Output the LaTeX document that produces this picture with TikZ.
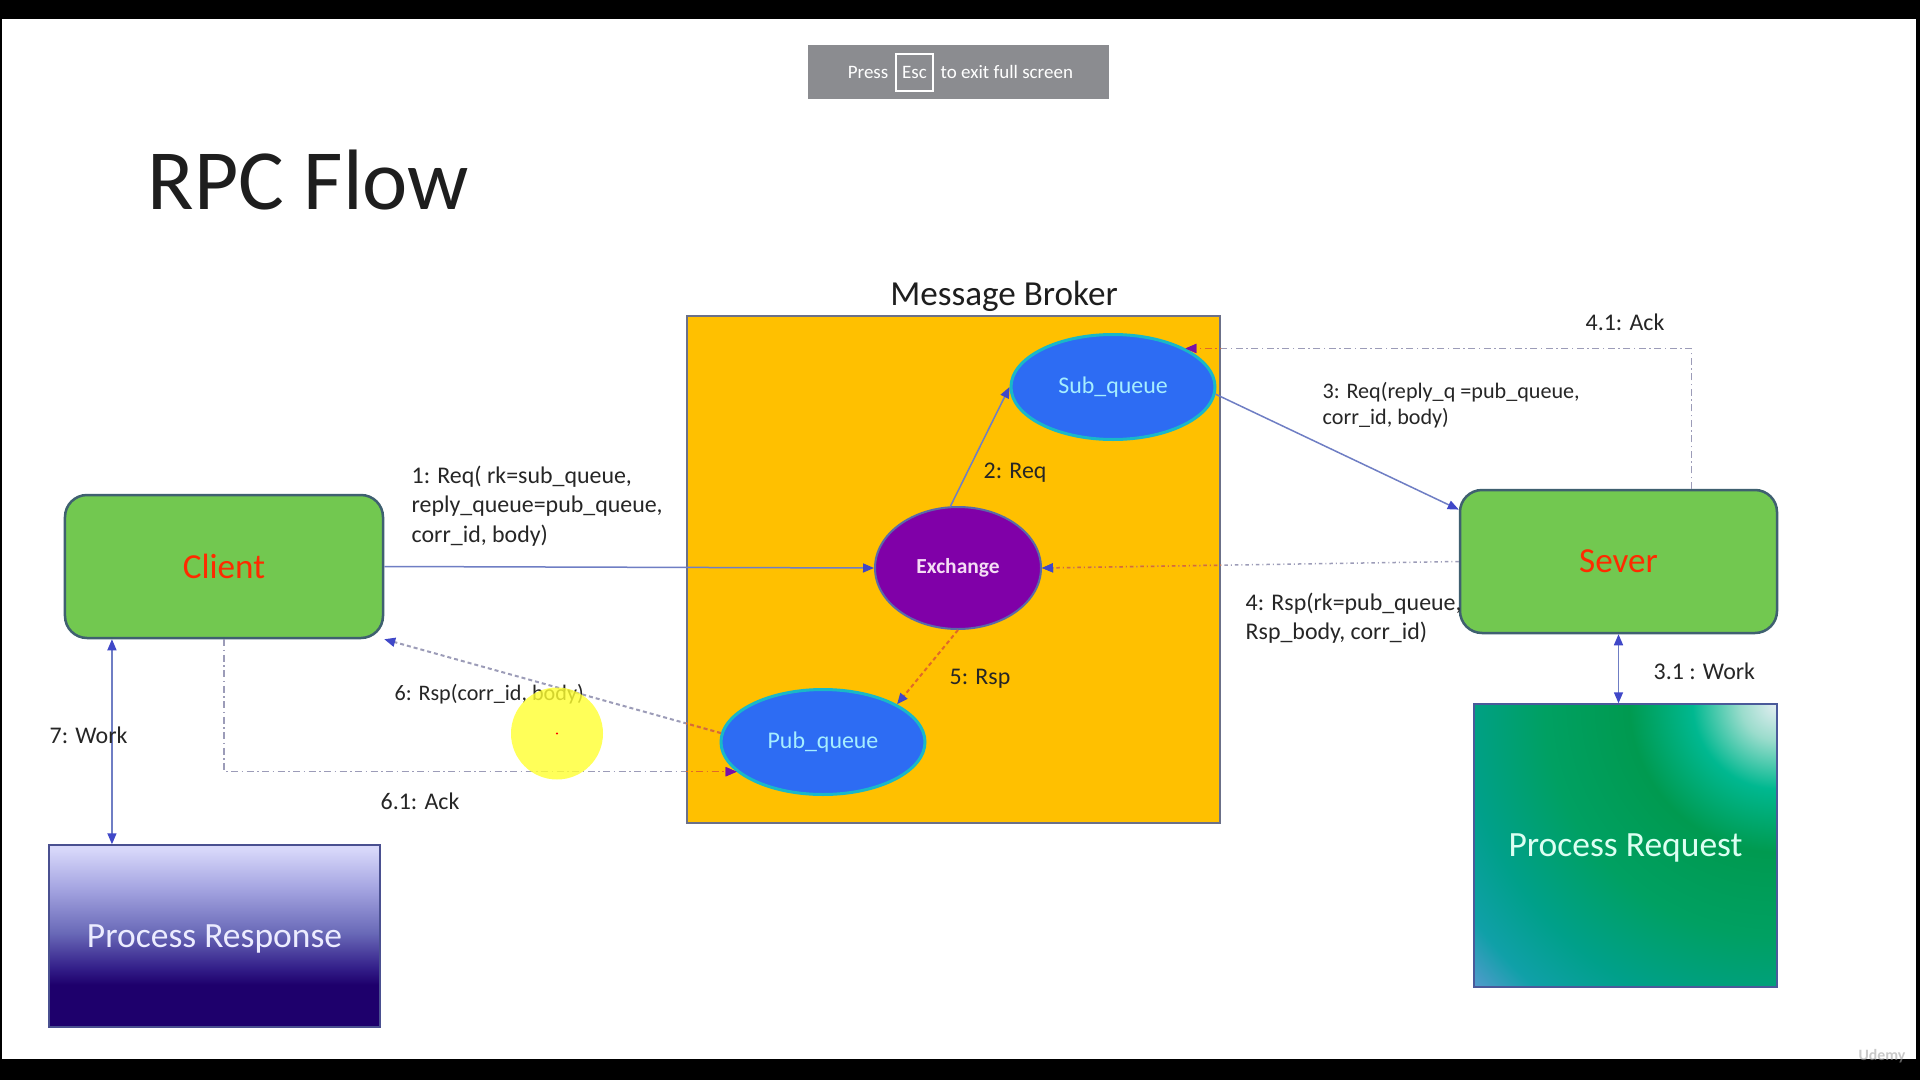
\documentclass[tikz,border=0pt]{standalone}
\usepackage{fontspec}
\setmainfont{Carlito}
\usetikzlibrary{shapes.geometric,arrows.meta}

\definecolor{nodegreen}{HTML}{72C850}
\definecolor{boxline}{HTML}{3F6070}
\definecolor{rolered}{HTML}{FF2A00}
\definecolor{brokerfill}{HTML}{FFC000}
\definecolor{brokerline}{HTML}{6B7088}
\definecolor{qblue}{HTML}{2D6CF3}
\definecolor{qline}{HTML}{19B8C8}
\definecolor{qtext}{HTML}{A6EEFF}
\definecolor{exchfill}{HTML}{8000A8}
\definecolor{exchline}{HTML}{5A6AA8}
\definecolor{exchtext}{HTML}{F4DCF4}
\definecolor{flowcol}{HTML}{6F7EC4}
\definecolor{tipblue}{HTML}{4048C8}
\definecolor{ackpurple}{HTML}{7A10A8}
\definecolor{dashgray}{HTML}{9C9CB8}
\definecolor{dashred}{HTML}{E06A28}
\definecolor{lblcol}{HTML}{262626}
\definecolor{titlecol}{HTML}{1E1E1E}
\definecolor{pressgray}{HTML}{8B8C90}
\definecolor{cursoryellow}{HTML}{FFFF30}
% Process Response colours
\definecolor{respdark}{HTML}{1E006C}
\definecolor{respdeep}{HTML}{34208A}
\definecolor{respmid}{HTML}{6A6AB8}
\definecolor{resplite}{HTML}{A6A6E2}
\definecolor{resptop}{HTML}{D8D8FA}
\definecolor{respline}{HTML}{4A5090}
\definecolor{resptext}{HTML}{ECECFF}
% Process Request colours
\definecolor{reqw}{HTML}{E4EEF2}
\definecolor{reqmint}{HTML}{9ADCCC}
\definecolor{reqteala}{HTML}{00B890}
\definecolor{reqgreen}{HTML}{009A50}
\definecolor{reqgreenb}{HTML}{00A062}
\definecolor{reqtealb}{HTML}{00A08A}
\definecolor{reqtealc}{HTML}{10A0A8}
\definecolor{reqblue}{HTML}{5A9AD0}
\definecolor{reqpurple}{HTML}{9090EA}
\definecolor{reqline}{HTML}{4A5A9A}
\definecolor{reqtext}{HTML}{DCFFF2}

% stops squeezed into the part of the shading that the boxes show
\pgfdeclareverticalshading{respshade}{100bp}{color(0bp)=(respdark); color(36.6bp)=(respdark); color(41.4bp)=(respdeep); color(51bp)=(respmid); color(63.4bp)=(resplite); color(74bp)=(resptop); color(100bp)=(resptop)}
\pgfdeclareradialshading{reqshade}{\pgfpointorigin}{color(0bp)=(reqw); color(2.2bp)=(reqmint); color(5.1bp)=(reqteala); color(8.9bp)=(reqgreen); color(14bp)=(reqgreenb); color(19bp)=(reqtealb); color(22.4bp)=(reqtealc); color(25.2bp)=(reqblue); color(28bp)=(reqpurple); color(50bp)=(reqpurple)}

\begin{document}
\begin{tikzpicture}[x=1mm,y=-1mm,
    rolebox/.style={draw=boxline, line width=0.25mm, fill=nodegreen, rounded corners=2.2mm,
        minimum width=31.8mm, minimum height=14.3mm, inner sep=0pt, text=rolered, font=\fontsize{10}{12}\selectfont},
    queue/.style={ellipse, draw=qline, line width=0.3mm, fill=qblue, inner sep=0pt,
        minimum width=20.4mm, minimum height=10.5mm, text=qtext, font=\fontsize{6.8}{8}\selectfont},
    xchg/.style={ellipse, draw=exchline, line width=0.2mm, fill=exchfill, inner sep=0pt,
        minimum width=16.6mm, minimum height=12.2mm, text=exchtext, font=\fontsize{6.1}{7}\selectfont\bfseries},
    lbl/.style={anchor=west, align=left, inner sep=0pt, text=lblcol, font=\fontsize{6.8}{8.4}\selectfont},
    hinttext/.style={inner sep=0pt, text=white, font=\fontsize{5.4}{6}\selectfont},
    flow/.style={draw=flowcol, line width=0.15mm, -{Triangle[length=1.1mm,width=0.9mm,color=tipblue]}},
    workline/.style={draw=flowcol, line width=0.15mm,
        {Triangle[length=1.1mm,width=0.9mm,color=tipblue]}-{Triangle[length=1.1mm,width=0.9mm,color=tipblue]}},
    rspline/.style={draw=dashgray, line width=0.15mm, dash pattern=on 0.35mm off 0.3mm on 0.1mm off 0.3mm,
        -{Triangle[length=1.1mm,width=0.9mm,color=tipblue]}},
    rspdash/.style={draw=dashgray, line width=0.2mm, dash pattern=on 0.4mm off 0.3mm,
        -{Triangle[length=1.1mm,width=0.9mm,color=tipblue]}},
    ackline/.style={draw=dashgray, line width=0.15mm, dash pattern=on 0.7mm off 0.35mm on 0.15mm off 0.35mm,
        -{Triangle[length=1.1mm,width=0.9mm,color=ackpurple]}},
    reqbox/.style={draw=reqline, line width=0.15mm, minimum width=30.3mm, minimum height=28.3mm, inner sep=0pt,
        text depth=0pt, text=reqtext, font=\fontsize{10.1}{12}\selectfont,
        path picture={\shade[shading=reqshade] (path picture bounding box.north east) circle (41.5);}},
    respbox/.style={draw=respline, line width=0.15mm, minimum width=33.1mm, minimum height=18.2mm, inner sep=0pt,
        text depth=0pt, shade, shading=respshade, text=resptext, font=\fontsize{10.1}{12}\selectfont}]

    % screen and slide
    \useasboundingbox (0,0) rectangle (192,108);
    \fill[black] (0,0) rectangle (192,108);
    \fill[white] (0.2,1.9) rectangle (191.6,105.9);

    % full screen hint
    \node[fill=pressgray, minimum width=30.1mm, minimum height=5.4mm, inner sep=0pt] (hint) at (95.85,7.2) {};
    \node[hinttext, anchor=east] (press) at (88.9,7.2) {Press};
    \node[hinttext, draw=white, line width=0.12mm, minimum width=3.7mm, minimum height=3.7mm] (esc) at (91.45,7.25) {Esc};
    \node[hinttext, anchor=west] (exittext) at (94.0,7.2) {to exit full screen};

    \node[anchor=west, inner sep=0pt, text=titlecol, font=\fontsize{24.4}{29}\selectfont] (title) at (14.7,18.0) {RPC Flow};

    % broker
    \node[draw=brokerline, line width=0.2mm, fill=brokerfill, minimum width=53.3mm, minimum height=50.7mm, inner sep=0pt] (broker) at (95.35,56.95) {};
    \node[anchor=base, inner sep=0pt, text=titlecol, font=\fontsize{10}{12}\selectfont] (brokername) at (100.4,30.5) {Message Broker};
    \node[queue] (subq) at (111.3,38.7) {Sub\_queue};
    \node[xchg] (exch) at (95.8,56.8) {Exchange};
    \node[queue] (pubq) at (82.3,74.2) {Pub\_queue};

    % client and server
    \node[rolebox] (client) at (22.4,56.65) {Client};
    \node[rolebox, minimum width=31.7mm] (sever) at (161.85,56.15) {Sever};
    \node[reqbox] (req) at (162.55,84.55) {Process Request};
    \node[respbox] (resp) at (21.45,93.6) {Process Response};

    % connectors
    \draw[flow] (client.east) -- (exch.west);
    \draw[flow] (exch.97) -- (subq.west);
    \draw[flow] (subq.-4) -- (sever.162);
    \draw[rspline] (sever.west) -- (exch.east);
    \draw[ackline] (sever.45) |- (subq.28);
    \draw[rspdash, draw=dashred] (exch.south) -- (pubq.27);
    \draw[rspdash] (pubq.175) -- (client.south east);
    \draw[ackline] (client.south) |- (pubq.199);
    \draw[workline] (client.213) -- (client.213 |- resp.north);
    \draw[workline] (sever.south) -- (sever.south |- req.north);

    % dashed parts over the broker
    \begin{scope}
        \clip (broker.north west) rectangle (broker.south east);
        \draw[rspline, draw=dashred] (sever.west) -- (exch.east);
        \draw[ackline, draw=dashred] (sever.45) |- (subq.28);
        \draw[rspdash, draw=dashred] (pubq.175) -- (client.south east);
        \draw[ackline, draw=dashred] (client.south) |- (pubq.199);
    \end{scope}

    % labels
    \node[lbl] (req1) at (41.1,50.6) {1: Req( rk=sub\_queue,\\reply\_queue=pub\_queue,\\corr\_id, body)};
    \node[lbl, anchor=base west] (req2) at (98.3,47.8) {2: Req};
    \node[lbl, font=\fontsize{6.3}{7.5}\selectfont] (req3) at (132.2,40.5) {3: Req(reply\_q =pub\_queue,\\corr\_id, body)};
    \node[lbl, anchor=base west] (work31) at (165.3,67.9) {3.1 : Work};
    \node[lbl] (rsp4) at (124.5,61.8) {4: Rsp(rk=pub\_queue,\\Rsp\_body, corr\_id)};
    \node[lbl, anchor=base west] (ack41) at (158.5,33.0) {4.1: Ack};
    \node[lbl, anchor=base west] (rsp5) at (94.9,68.4) {5: Rsp};
    \node[lbl, anchor=base west, font=\fontsize{6.3}{7.5}\selectfont] (rsp6) at (39.4,70.0) {6: Rsp(corr\_id, body)};
    \node[lbl, anchor=base west] (ack61) at (38.0,80.9) {6.1: Ack};
    \node[lbl, anchor=base west] (work7) at (4.9,74.3) {7: Work};

    % cursor highlight
    \fill[cursoryellow, opacity=0.8] (55.7,73.35) circle (4.6);
    \fill[red] (55.7,73.35) circle (0.12);

    \node[text=gray!70, opacity=0.6, font=\fontsize{4.5}{5}\selectfont\bfseries] (udemy) at (188.2,105.6) {Udemy};
\end{tikzpicture}
\end{document}
